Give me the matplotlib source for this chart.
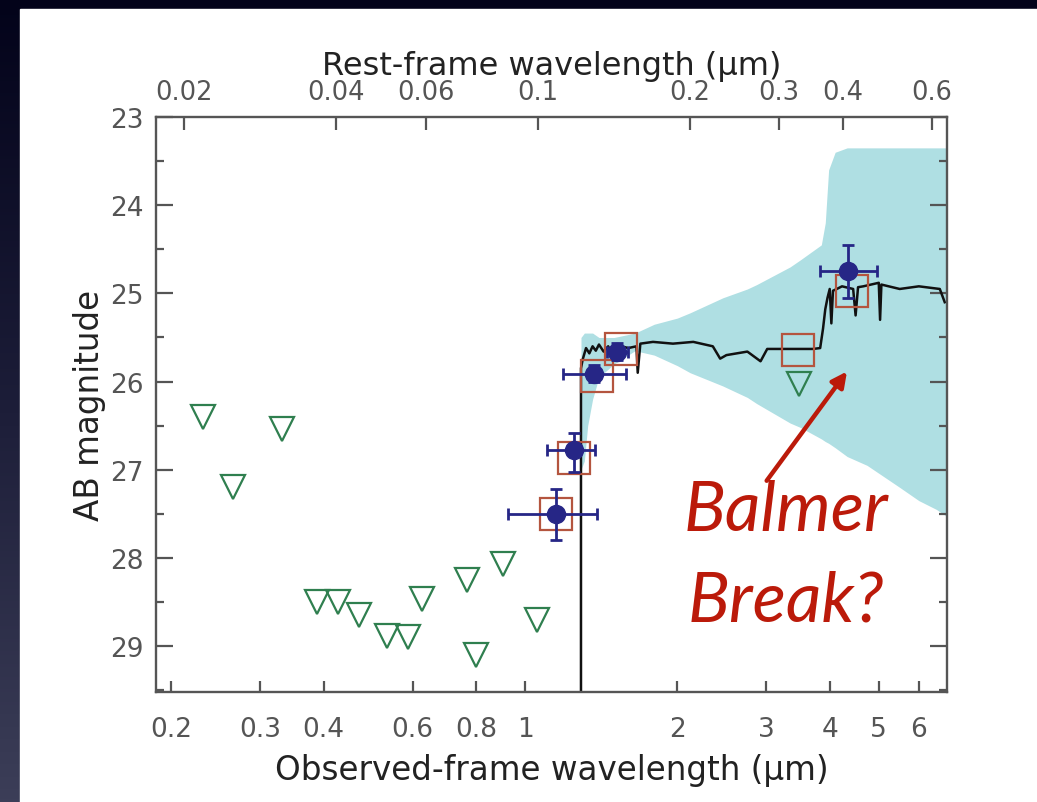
import numpy as np
import matplotlib.pyplot as plt
from matplotlib.patches import Rectangle
from matplotlib.colors import LinearSegmentedColormap
from matplotlib.ticker import FixedLocator, FixedFormatter, NullLocator, MultipleLocator

# redshift factor (1+z) linking observed and rest-frame wavelength
z_plus_1 = 10.6

# detections (observed wavelength in um, AB mag)
det_wl = [1.15, 1.25, 1.37, 1.52, 4.35]
det_mag = [27.5, 26.78, 25.91, 25.66, 24.75]
det_wl_lo = [0.926, 1.105, 1.19, 1.45, 3.83]
det_wl_hi = [1.39, 1.375, 1.58, 1.60, 4.96]
det_mag_err_lo = [0.28, 0.2, 0.1, 0.1, 0.3]
det_mag_err_hi = [0.3, 0.25, 0.1, 0.1, 0.3]

# model photometry
mod_wl = [1.15, 1.25, 1.39, 1.55, 3.46, 4.43]
mod_mag = [27.5, 26.87, 25.94, 25.63, 25.64, 24.97]

# upper limits
lim_wl = [0.231, 0.265, 0.331, 0.388, 0.427, 0.47, 0.534, 0.587, 0.626,
          0.768, 0.80, 0.905, 1.056, 3.48]
lim_mag = [26.4, 27.2, 26.54, 28.5, 28.5, 28.65, 28.88, 28.9, 28.47,
           28.25, 29.1, 28.07, 28.7, 26.03]

# best-fit spectrum
spec_wl = [1.29, 1.29, 1.30, 1.32, 1.34, 1.36, 1.38, 1.40, 1.43, 1.46, 1.49,
           1.52, 1.55, 1.60, 1.66, 1.67, 1.69, 1.79, 1.96, 2.15, 2.35, 2.43,
           2.5, 2.75, 2.92, 3.01, 3.29, 3.71, 3.83, 3.88, 3.92, 3.96, 4.0,
           4.03, 4.06, 4.13, 4.23, 4.45, 4.5, 4.55, 4.66, 5.0, 5.03, 5.06,
           5.5, 6.0, 6.6, 6.75]
spec_mag = [29.7, 25.85, 25.75, 25.62, 25.68, 25.6, 25.65, 25.58, 25.66,
            25.6, 25.7, 25.62, 25.6, 25.62, 25.6, 25.9, 25.57, 25.55, 25.57,
            25.55, 25.6, 25.74, 25.7, 25.66, 25.77, 25.63, 25.63, 25.63,
            25.62, 25.4, 25.18, 25.05, 24.95, 25.34, 24.97, 24.95, 24.92,
            24.95, 25.25, 24.93, 24.92, 24.88, 25.3, 24.9, 24.95, 24.92,
            24.95, 25.1]

# model uncertainty band
band_wl = [1.29, 1.31, 1.33, 1.36, 1.40, 1.50, 1.65, 1.80, 2.0, 2.12, 2.46,
           2.75, 2.87, 3.34, 3.5, 3.85, 3.92, 3.98, 4.1, 4.33, 4.74, 5.5,
           6.0, 6.5, 7.1]
band_hi = [25.5, 25.45, 25.45, 25.45, 25.5, 25.5, 25.45, 25.35, 25.28,
           25.22, 25.05, 24.95, 24.9, 24.7, 24.62, 24.45, 24.2, 23.6, 23.4,
           23.35, 23.35, 23.35, 23.35, 23.35, 23.35]
band_lo = [27.0, 26.9, 26.5, 26.2, 25.95, 25.8, 25.65, 25.7, 25.82, 25.9,
           26.05, 26.18, 26.25, 26.47, 26.52, 26.65, 26.68, 26.7, 26.75,
           26.85, 26.95, 27.2, 27.35, 27.45, 27.6]

bottom_ticks = [0.2, 0.3, 0.4, 0.6, 0.8, 1, 2, 3, 4, 5, 6]
bottom_labels = ['0.2', '0.3', '0.4', '0.6', '0.8', '1', '2', '3', '4', '5', '6']
top_ticks = [0.02, 0.04, 0.06, 0.1, 0.2, 0.3, 0.4, 0.6]
top_labels = ['0.02', '0.04', '0.06', '0.1', '0.2', '0.3', '0.4', '0.6']

plt.rcParams['font.family'] = ['DejaVu Sans']

fig = plt.figure(figsize=(10.37, 8.03), dpi=100)

# dark slide background with white panel
bg = fig.add_axes([0, 0, 1, 1])
grad = np.linspace(0, 1, 256).reshape(-1, 1)
cmap = LinearSegmentedColormap.from_list('bg', ['#03031a', '#1c1d38', '#3c3e58'])
bg.imshow(grad, aspect='auto', cmap=cmap, extent=[0, 1, 0, 1], origin='upper')
bg.add_patch(Rectangle((20 / 1037, 0), 1, (803 - 10) / 803, color='white'))
bg.set_xlim(0, 1)
bg.set_ylim(0, 1)
bg.axis('off')

xmin, xmax = 0.1866, 6.82

ax = fig.add_axes([156 / 1037, 1 - 693 / 803, (947 - 156) / 1037, (693 - 118) / 803])
ax.set_xscale('log')
ax.set_xlim(xmin, xmax)
ax.set_ylim(29.52, 23.0)

ax.fill_between(band_wl, band_lo, band_hi, color='#afdfe3', lw=0, zorder=1)
ax.plot(spec_wl, spec_mag, color='#111111', lw=1.8, zorder=2)

ax.plot(mod_wl, mod_mag, 's', ms=23, mfc='none', mec='#b4553f', mew=1.6, zorder=3)
ax.plot(lim_wl, lim_mag, 'v', ms=17, mfc='none', mec='#2f7f4f', mew=1.6, zorder=3)

det_wl_a = np.array(det_wl)
xerr = [det_wl_a - np.array(det_wl_lo), np.array(det_wl_hi) - det_wl_a]
ax.errorbar(det_wl, det_mag, xerr=xerr, yerr=[det_mag_err_lo, det_mag_err_hi],
            fmt='o', ms=13, color='#262686', ecolor='#262686', elinewidth=2,
            capsize=4, capthick=2, zorder=4)

# axes styling
for s in ax.spines.values():
    s.set_color('#555555')
    s.set_linewidth(1.7)

ax.xaxis.set_major_locator(FixedLocator(bottom_ticks))
ax.xaxis.set_major_formatter(FixedFormatter(bottom_labels))
ax.xaxis.set_minor_locator(NullLocator())
ax.yaxis.set_major_locator(MultipleLocator(1))
ax.yaxis.set_minor_locator(MultipleLocator(0.5))
ax.tick_params(axis='x', which='major', direction='in', length=8, width=1.6,
               color='#555555', labelsize=19, labelcolor='#555555', pad=17)
ax.tick_params(axis='y', which='both', direction='in', right=True, width=1.6,
               color='#555555', labelsize=19, labelcolor='#555555', pad=9)
ax.tick_params(axis='y', which='major', length=12)
ax.tick_params(axis='y', which='minor', length=6)

ax.set_xlabel('Observed-frame wavelength (\u00b5m)', fontsize=23.5, color='#222222', labelpad=8)
ax.set_ylabel('AB magnitude', fontsize=23.5, color='#222222', labelpad=3)

top = ax.twiny()
top.set_xscale('log')
top.set_xlim(xmin / z_plus_1, xmax / z_plus_1)
top.xaxis.set_major_locator(FixedLocator(top_ticks))
top.xaxis.set_major_formatter(FixedFormatter(top_labels))
top.xaxis.set_minor_locator(NullLocator())
top.tick_params(axis='x', which='major', direction='in', length=9, width=1.6,
                color='#555555', labelsize=18.5, labelcolor='#555555', pad=8.5)
top.set_xlabel('Rest-frame wavelength (\u00b5m)', fontsize=23, color='#222222', labelpad=4)
for s in top.spines.values():
    s.set_visible(False)

# annotation
ax.annotate('', xy=(4.36, 25.86), xytext=(2.98, 27.15),
            arrowprops=dict(arrowstyle='-|>,head_length=0.9,head_width=0.45',
                            color='#bb1a0a', lw=3.2), zorder=5)
ax.text(3.28, 27.68, 'Balmer', fontsize=50, style='italic', family='Lato',
        color='#bb1a0a', ha='center', va='baseline', zorder=5)
ax.text(3.28, 28.71, 'Break?', fontsize=50, style='italic', family='Lato',
        color='#bb1a0a', ha='center', va='baseline', zorder=5)

fig.savefig('out.png', dpi=100)
